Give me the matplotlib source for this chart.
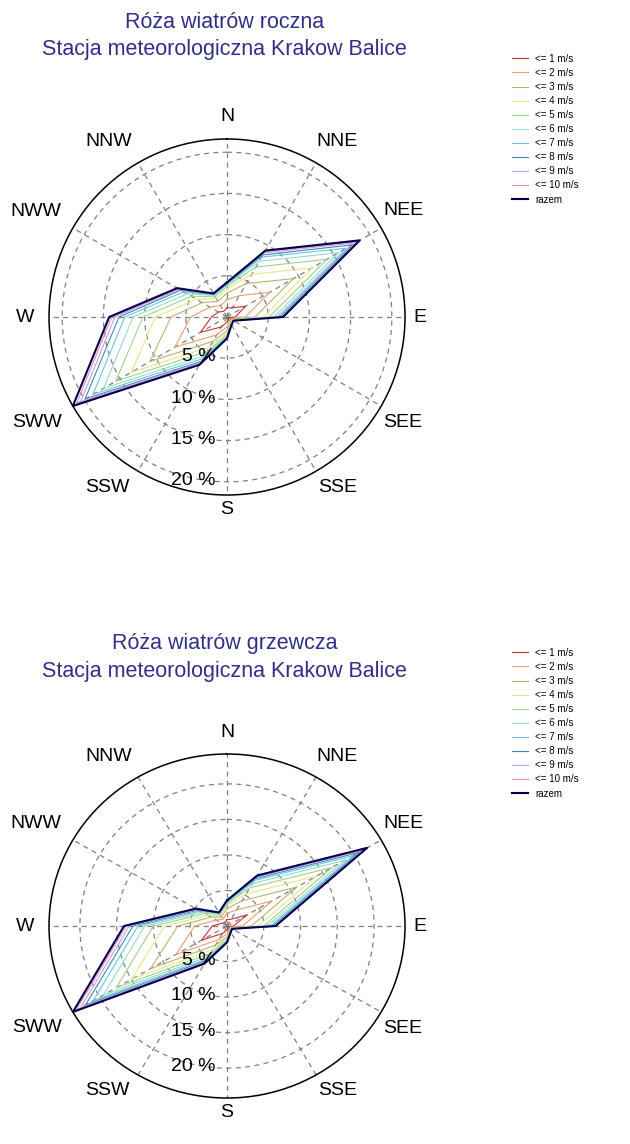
import numpy as np
import matplotlib.pyplot as plt

plt.rcParams["font.family"] = ["Liberation Sans", "DejaVu Sans"]

directions = ["N", "NNE", "NEE", "E", "SEE", "SSE", "S", "SSW", "SWW", "W", "NWW", "NNW"]
speed_labels = ["<= 1 m/s", "<= 2 m/s", "<= 3 m/s", "<= 4 m/s", "<= 5 m/s",
                "<= 6 m/s", "<= 7 m/s", "<= 8 m/s", "<= 9 m/s", "<= 10 m/s", "razem"]
rings = [5, 10, 15, 20]

# Roza roczna - cumulative frequency [%] per direction (N, NNE, ... NNW)
roczna_1 = [1.1, 1.3, 2.6, 1.0, 0.20, 0.30, 0.60, 1.4, 3.7, 1.9, 1.2, 0.8]
roczna_2 = [2.1, 3.0, 6.0, 2.2, 0.45, 0.55, 1.2, 2.5, 7.3, 4.4, 2.4, 1.6]
roczna_3 = [2.9, 4.7, 9.3, 3.4, 0.60, 0.75, 1.7, 3.4, 10.8, 6.8, 3.5, 2.2]
roczna_4 = [3.4, 6.0, 11.9, 4.4, 0.70, 0.88, 2.0, 4.2, 13.4, 8.7, 4.3, 2.6]
roczna_5 = [3.7, 7.0, 14.0, 5.1, 0.80, 0.97, 2.2, 4.8, 15.6, 10.2, 5.0, 2.9]
roczna_6 = [3.9, 7.8, 15.6, 5.7, 0.84, 1.02, 2.35, 5.4, 17.3, 11.4, 5.6, 3.05]
roczna_7 = [4.0, 8.4, 16.7, 6.1, 0.86, 1.05, 2.45, 5.8, 18.8, 12.4, 6.1, 3.15]
roczna_8 = [4.1, 8.7, 17.5, 6.4, 0.88, 1.08, 2.52, 6.2, 19.9, 13.1, 6.5, 3.2]
roczna_9 = [4.15, 9.0, 18.0, 6.6, 0.89, 1.09, 2.56, 6.4, 20.5, 13.6, 6.7, 3.25]
roczna_10 = [4.18, 9.2, 18.3, 6.7, 0.90, 1.10, 2.58, 6.55, 21.1, 14.0, 6.85, 3.28]
roczna_razem = [4.2, 9.3, 18.6, 6.8, 0.90, 1.10, 2.6, 6.7, 21.6, 14.3, 7.0, 3.3]

# Roza grzewcza
grzewcza_1 = [0.9, 1.1, 3.1, 0.9, 0.20, 0.25, 0.55, 1.2, 4.0, 2.0, 0.8, 0.55]
grzewcza_2 = [1.8, 2.6, 7.0, 2.1, 0.40, 0.50, 1.1, 2.2, 8.0, 4.4, 1.7, 1.1]
grzewcza_3 = [2.45, 4.1, 11.0, 3.3, 0.55, 0.68, 1.5, 3.1, 12.0, 6.7, 2.5, 1.5]
grzewcza_4 = [2.9, 5.2, 14.1, 4.2, 0.64, 0.80, 1.8, 3.8, 15.0, 8.5, 3.0, 1.75]
grzewcza_5 = [3.15, 6.2, 16.5, 5.0, 0.70, 0.88, 1.95, 4.4, 17.4, 10.0, 3.5, 1.92]
grzewcza_6 = [3.35, 6.9, 18.5, 5.5, 0.74, 0.93, 2.1, 4.9, 19.4, 11.2, 3.9, 2.03]
grzewcza_7 = [3.45, 7.4, 19.8, 5.9, 0.76, 0.96, 2.18, 5.3, 21.0, 12.1, 4.2, 2.1]
grzewcza_8 = [3.52, 7.7, 20.7, 6.2, 0.78, 0.98, 2.23, 5.6, 22.2, 12.8, 4.5, 2.15]
grzewcza_9 = [3.56, 7.95, 21.3, 6.4, 0.79, 0.99, 2.26, 5.85, 23.0, 13.3, 4.7, 2.18]
grzewcza_10 = [3.58, 8.1, 21.7, 6.5, 0.80, 1.0, 2.28, 6.0, 23.7, 13.7, 4.8, 2.19]
grzewcza_razem = [3.6, 8.2, 22.0, 6.6, 0.80, 1.0, 2.3, 6.1, 24.2, 14.0, 4.9, 2.2]

colors = ["#c83232", "#e8a070", "#b4b478", "#e6e68c", "#a0d28c", "#96dcc8",
          "#64c8e6", "#3c8caa", "#c8a0e6", "#e68cb4", "#000050"]
# where the direction names sit (angle in degrees, radius as fraction of rmax)
label_angle = [0, 32, 59, 90, 121, 147, 180, 215, 241, 270, 299, 326]
label_radius = [1.124, 1.161, 1.157, 1.084, 1.152, 1.14, 1.084, 1.169, 1.219, 1.135, 1.225, 1.189]
title_color = "#30308a"
grid_color = "#808080"


def draw_rose(fig, rect, title_y, legend_y, title, series):
    ax = fig.add_axes(rect, projection="polar")
    ax.set_aspect("auto")
    ax.set_theta_zero_location("N")
    ax.set_theta_direction(-1)

    theta = np.deg2rad(np.arange(len(directions)) * 30)
    theta_closed = np.append(theta, theta[0])
    rmax = max(series[-1])

    # dashed grid: rings and spokes
    circle = np.linspace(0, 2 * np.pi, 361)
    for ring in rings:
        ax.plot(circle, np.full_like(circle, ring), color=grid_color,
                lw=0.9, ls=(0, (4, 3.5)), zorder=1)
    for t in theta:
        ax.plot([t, t], [0, rmax], color=grid_color, lw=0.9,
                ls=(0, (4, 3.5)), zorder=1)

    handles = []
    for values, color in zip(series, colors):
        r = np.append(values, values[0])
        lw = 1.5 if color == colors[-1] else 0.8
        (line,) = ax.plot(theta_closed, r, color=color, lw=lw,
                          clip_on=False, zorder=3)
        handles.append(line)

    ax.set_ylim(0, rmax)
    ax.set_xticks([])
    ax.set_yticks([])
    ax.grid(False)
    ax.spines["polar"].set_color("black")
    ax.spines["polar"].set_linewidth(1.1)

    for ring in rings:
        ax.annotate(f"{ring} %", xy=(np.pi, ring), xytext=(-8, 1),
                    textcoords="offset points", ha="right", va="center",
                    fontsize=14, zorder=4)

    for ang, name, k in zip(label_angle, directions, label_radius):
        ax.text(np.deg2rad(ang), rmax * k, name, ha="center", va="center",
                fontsize=14, clip_on=False)

    fig.text(0.356, title_y[0], title[0], ha="center", va="center",
             fontsize=15.5, color=title_color)
    fig.text(0.356, title_y[1], title[1], ha="center", va="center",
             fontsize=15.5, color=title_color)

    fig.legend(handles, speed_labels, loc="upper left",
               bbox_to_anchor=(0.7995, legend_y), frameon=False, fontsize=7,
               handlelength=1.55, handletextpad=0.82, labelspacing=0.42,
               borderpad=0.4)


def main():
    fig = plt.figure(figsize=(6.3, 11.44), dpi=100)

    roczna = [roczna_1, roczna_2, roczna_3, roczna_4, roczna_5, roczna_6,
              roczna_7, roczna_8, roczna_9, roczna_10, roczna_razem]
    grzewcza = [grzewcza_1, grzewcza_2, grzewcza_3, grzewcza_4, grzewcza_5,
                grzewcza_6, grzewcza_7, grzewcza_8, grzewcza_9, grzewcza_10,
                grzewcza_razem]

    draw_rose(fig, [0.0778, 0.5673, 0.5651, 0.3112],
              (1 - 22 / 1144, 1 - 50 / 1144), 1 - 45 / 1144,
              ("Róża wiatrów roczna", "Stacja meteorologiczna Krakow Balice"),
              roczna)
    draw_rose(fig, [0.0778, 0.0402, 0.5651, 0.3007],
              (1 - 643 / 1144, 1 - 671 / 1144), 1 - 639 / 1144,
              ("Róża wiatrów grzewcza", "Stacja meteorologiczna Krakow Balice"),
              grzewcza)

    fig.savefig("out.png", dpi=100)


if __name__ == "__main__":
    main()
